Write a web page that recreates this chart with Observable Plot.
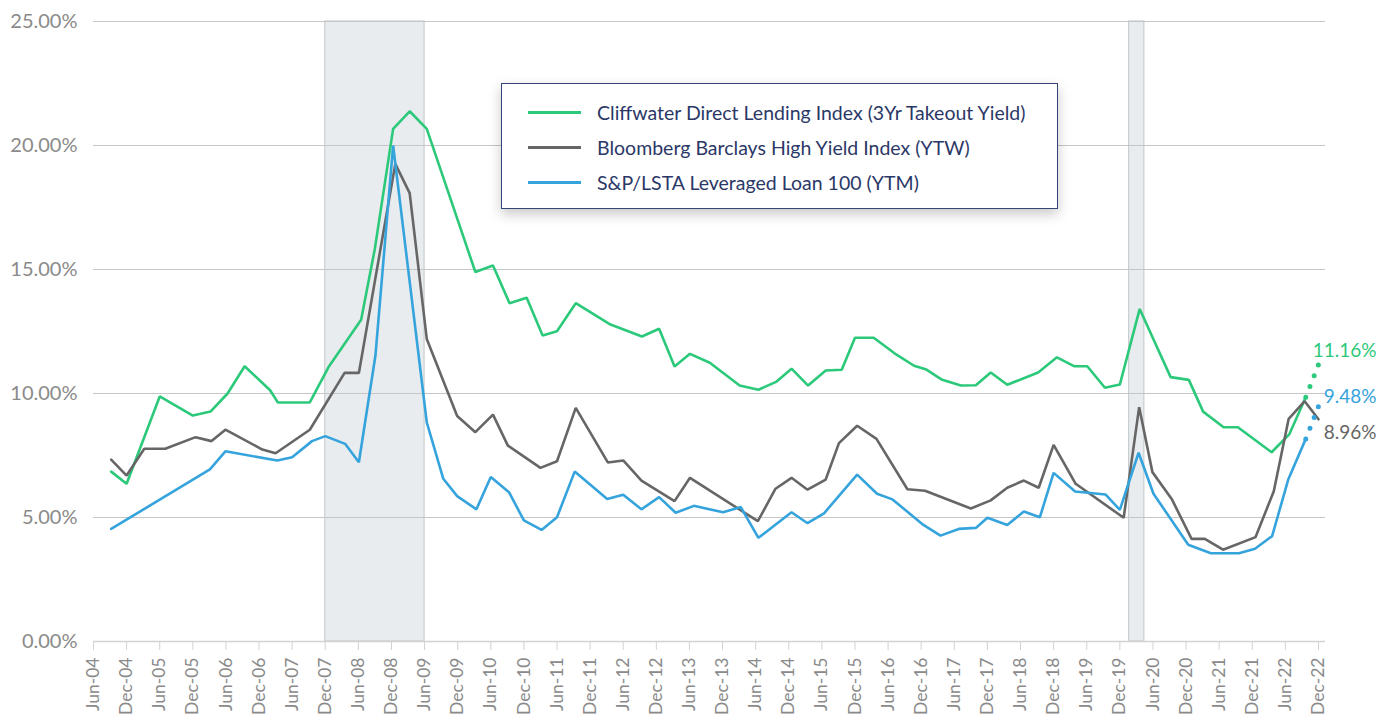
<!DOCTYPE html>
<html><head><meta charset="utf-8">
<script src="https://cdn.jsdelivr.net/npm/d3@7"></script>
<script src="https://cdn.jsdelivr.net/npm/@observablehq/plot@0.6"></script>
<style>
  body{margin:0;background:#fff;font-family:Lato,"Open Sans",sans-serif;}
  #wrap{position:relative;width:1389px;height:717px;}
  .legend{position:absolute;left:501px;top:83px;width:557px;height:126px;background:#fff;border:1px solid #34457a;box-shadow:0 5px 12px rgba(0,0,0,0.22);box-sizing:border-box;}
  .row{position:absolute;left:26px;height:20px;display:flex;align-items:center;}
  .sw{width:53px;height:3px;margin-right:16px;}
  .lab{font-size:19.5px;color:#2b3867;white-space:nowrap;}
</style>
</head><body><div id="wrap"></div>
<script>
// decimal-year positions (Jun-04 = 2004.5, Dec-04 = 2005.0)
const cliffT = [2004.767,2005.0,2005.5,2006.0,2006.267,2006.525,2006.783,2007.167,2007.283,2007.767,2008.058,2008.542,2008.75,2009.025,2009.275,2009.533,2010.267,2010.533,2010.783,2011.042,2011.283,2011.5,2011.783,2012.308,2012.783,2013.042,2013.275,2013.508,2013.808,2014.258,2014.542,2014.817,2015.042,2015.292,2015.558,2015.8,2016.0,2016.283,2016.592,2016.892,2017.067,2017.317,2017.6,2017.825,2018.05,2018.3,2018.767,2019.05,2019.308,2019.508,2019.775,2020.0,2020.3,2020.767,2021.042,2021.258,2021.567,2021.783,2022.292,2022.558,2022.808];
const cliffV = [6.85,6.36,9.88,9.11,9.27,10.0,11.1,10.13,9.64,9.64,11.1,12.97,15.85,20.67,21.38,20.67,14.9,15.16,13.64,13.86,12.34,12.51,13.64,12.78,12.3,12.61,11.09,11.6,11.24,10.32,10.15,10.48,11.0,10.32,10.93,10.96,12.25,12.25,11.63,11.12,10.98,10.55,10.32,10.33,10.85,10.35,10.85,11.46,11.1,11.1,10.23,10.36,13.41,10.66,10.55,9.27,8.64,8.64,7.63,8.35,9.85];

const hyT = [2004.767,2005.0,2005.267,2005.583,2006.042,2006.283,2006.492,2007.05,2007.25,2007.767,2008.292,2008.508,2009.058,2009.275,2009.533,2009.992,2010.267,2010.533,2010.758,2011.25,2011.5,2011.783,2012.267,2012.5,2012.775,2013.275,2013.508,2014.533,2014.8,2015.042,2015.283,2015.558,2015.758,2016.033,2016.325,2016.792,2017.058,2017.75,2018.05,2018.3,2018.55,2018.775,2019.0,2019.333,2020.058,2020.292,2020.492,2020.783,2021.083,2021.283,2021.558,2022.05,2022.325,2022.55,2022.792,2023.0];
const hyV = [7.33,6.69,7.77,7.77,8.24,8.08,8.54,7.74,7.59,8.54,10.83,10.83,19.26,18.08,12.2,9.09,8.44,9.15,7.9,7.0,7.27,9.42,7.22,7.3,6.49,5.66,6.6,4.85,6.16,6.6,6.12,6.53,8.0,8.7,8.17,6.14,6.08,5.36,5.69,6.2,6.49,6.2,7.93,6.36,4.99,9.45,6.83,5.75,4.14,4.14,3.7,4.21,6.06,8.98,9.69,8.96];

const llT = [2004.767,2006.258,2006.492,2007.275,2007.5,2007.8,2008.0,2008.3,2008.508,2008.758,2009.025,2009.533,2009.783,2009.992,2010.283,2010.5,2010.775,2011.0,2011.267,2011.5,2011.767,2012.258,2012.5,2012.775,2013.042,2013.292,2013.567,2014.008,2014.275,2014.542,2015.042,2015.283,2015.533,2016.033,2016.333,2016.567,2017.033,2017.292,2017.567,2017.825,2018.0,2018.3,2018.55,2018.792,2019.0,2019.325,2019.783,2020.0,2020.283,2020.508,2021.033,2021.375,2021.8,2022.042,2022.3,2022.542,2022.808];
const llV = [4.54,6.94,7.67,7.3,7.43,8.08,8.28,7.97,7.23,11.53,20.0,8.84,6.56,5.86,5.33,6.63,6.02,4.88,4.5,5.01,6.85,5.75,5.92,5.33,5.82,5.19,5.47,5.21,5.42,4.18,5.21,4.77,5.17,6.73,5.96,5.73,4.7,4.27,4.54,4.58,4.99,4.7,5.24,5.01,6.8,6.05,5.93,5.31,7.61,5.96,3.9,3.56,3.56,3.74,4.25,6.52,8.17];

// latest (Dec-22) values
const endT = 2023.0;
const cliffEnd = 11.16, hyEnd = 8.96, llEnd = 9.48;

const seriesNames = ["Cliffwater Direct Lending Index (3Yr Takeout Yield)","Bloomberg Barclays High Yield Index (YTW)","S&P/LSTA Leveraged Loan 100 (YTM)"];
const seriesColors = ["#2cc97a","#666666","#35a3dc"];

const recessionStart = [2008.0, 2020.14];
const recessionEnd = [2009.5, 2020.37];

const yTicks = [0,5,10,15,20,25];
const xTickLabels = ["Jun-04","Dec-04","Jun-05","Dec-05","Jun-06","Dec-06","Jun-07","Dec-07","Jun-08","Dec-08","Jun-09","Dec-09","Jun-10","Dec-10","Jun-11","Dec-11","Jun-12","Dec-12","Jun-13","Dec-13","Jun-14","Dec-14","Jun-15","Dec-15","Jun-16","Dec-16","Jun-17","Dec-17","Jun-18","Dec-18","Jun-19","Dec-19","Jun-20","Dec-20","Jun-21","Dec-21","Jun-22","Dec-22"];
const xTicks = xTickLabels.map((_, i) => 2004.5 + i * 0.5);
const labelAt = new Map(xTicks.map((t, i) => [t, xTickLabels[i]]));

const zip = (T, V) => T.map((t, i) => ({t, v: V[i]}));
const cliff = zip(cliffT, cliffV), hy = zip(hyT, hyV), ll = zip(llT, llV);
const recessions = recessionStart.map((s, i) => ({start: s, end: recessionEnd[i]}));
const last = a => a[a.length - 1];
const cliffProj = [last(cliff), {t: endT, v: cliffEnd}];
const llProj = [last(ll), {t: endT, v: llEnd}];

const chart = Plot.plot({
  width: 1389, height: 717,
  marginLeft: 93, marginRight: 64, marginTop: 21, marginBottom: 76,
  style: {fontFamily: "Lato, 'Open Sans', sans-serif", background: "white", overflow: "visible"},
  x: {type: "linear", domain: [2004.5, 2023.106]},
  y: {domain: [0, 25]},
  marks: [
    Plot.rect(recessions, {x1: "start", x2: "end", y1: 0, y2: 25, fill: "#e8ecef", stroke: "#c9ced2", strokeWidth: 1.2}),
    Plot.gridY([5,10,15,20,25], {stroke: "#c6c6c6", strokeOpacity: 1, strokeWidth: 1}),
    Plot.ruleY([0], {stroke: "#d2d2d2", strokeWidth: 1.5}),
    Plot.axisY(yTicks, {tickSize: 0, tickPadding: 16, tickFormat: d => d.toFixed(2) + "%", fontSize: 20, fill: "#8a8a8a", label: null}),
    Plot.axisX(xTicks, {tickSize: 9, tickPadding: 7, tickRotate: -90, tickFormat: d => labelAt.get(d), fontSize: 17.5, fill: "#8a8a8a", stroke: "#d2d2d2", label: null}),
    Plot.line(cliff, {x: "t", y: "v", stroke: seriesColors[0], strokeWidth: 2.6, strokeLinejoin: "miter"}),
    Plot.line(hy, {x: "t", y: "v", stroke: seriesColors[1], strokeWidth: 2.6, strokeLinejoin: "miter"}),
    Plot.line(ll, {x: "t", y: "v", stroke: seriesColors[2], strokeWidth: 2.6, strokeLinejoin: "miter"}),
    Plot.line(cliffProj, {x: "t", y: "v", stroke: seriesColors[0], strokeWidth: 5, strokeLinecap: "round", strokeDasharray: "0 11.5"}),
    Plot.line(llProj, {x: "t", y: "v", stroke: seriesColors[2], strokeWidth: 5, strokeLinecap: "round", strokeDasharray: "0 11.5"}),
    Plot.text([cliffEnd], {x: endT, y: d => d, text: d => d.toFixed(2) + "%", fill: seriesColors[0], fontSize: 19, textAnchor: "end", dx: 58, dy: -14}),
    Plot.text([llEnd], {x: endT, y: d => d, text: d => d.toFixed(2) + "%", fill: seriesColors[2], fontSize: 19, textAnchor: "end", dx: 58, dy: -9}),
    Plot.text([hyEnd], {x: endT, y: d => d, text: d => d.toFixed(2) + "%", fill: seriesColors[1], fontSize: 19, textAnchor: "end", dx: 58, dy: 14})
  ]
});
const wrap = document.getElementById("wrap");
wrap.appendChild(chart);

const legend = document.createElement("div");
legend.className = "legend";
seriesNames.forEach((name, i) => {
  const row = document.createElement("div");
  row.className = "row";
  row.style.top = (18 + i * 35) + "px";
  const sw = document.createElement("div");
  sw.className = "sw"; sw.style.background = seriesColors[i];
  const lab = document.createElement("div");
  lab.className = "lab"; lab.textContent = name;
  row.appendChild(sw); row.appendChild(lab);
  legend.appendChild(row);
});
wrap.appendChild(legend);
</script>
</body></html>
